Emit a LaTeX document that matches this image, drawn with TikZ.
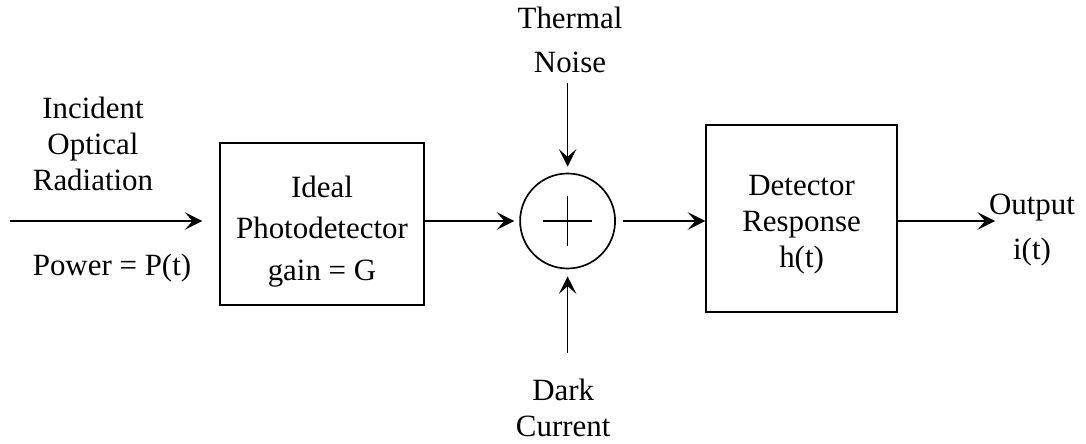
\documentclass[tikz,border=0pt]{standalone}
\usepackage{fontspec}
\setmainfont{Liberation Serif}
\usetikzlibrary{arrows.meta}

\begin{document}
\begin{tikzpicture}[
  lbl/.style={font=\fontsize{22}{25.6}\selectfont,align=center,inner sep=0pt},
  blk/.style={draw,line width=1.2pt,inner sep=0pt},
  sig/.style={-{Stealth[length=12.5pt,width=12.5pt,inset=5.5pt]},line width=1.2pt}]
  \useasboundingbox (0,0) rectangle (27.15,11.075);
  \node[blk,minimum width=5.1cm,minimum height=4.05cm] (pd) at (8.05,5.475) {};
  \node[blk,minimum width=4.775cm,minimum height=4.675cm] (resp) at (20.04,5.6125) {};
  \node[blk,circle,minimum size=2.375cm] (sum) at (14.19,5.55) {};
  \draw[line width=1.2pt] ([xshift=-0.61cm]sum.center) -- ([xshift=0.61cm]sum.center);
  \draw[line width=1.2pt] ([yshift=-0.625cm]sum.center) -- ([yshift=0.625cm]sum.center);
  \coordinate (src) at (0.25,5.55);
  \coordinate (out) at (24.875,5.55);
  \coordinate (thn) at (14.19,9.0);
  \coordinate (dark) at (14.19,2.25);
  % signal path, then the two noise inputs
  \draw[sig,shorten >=0.42cm] (src) -- (src -| pd.west);
  \draw[sig,shorten >=0.125cm] (pd.east |- sum) -- (sum);
  \draw[sig,shorten <=0.175cm] (sum) -- (sum -| resp.west);
  \draw[sig] (sum -| resp.east) -- (out);
  \draw[sig,shorten >=0.15cm] (thn) -- (sum);
  \draw[sig,shorten >=0.175cm] (dark) -- (sum);
  \node[lbl] (inc) at (2.325,7.48) {Incident\\Optical\\Radiation};
  \node[lbl,anchor=base] (pwr) at (2.8,4.2) {Power = P(t)};
  \node[lbl] (pdtxt) at (8.05,5.2875) {Ideal\\[3.9pt]Photodetector\\[3.9pt]gain = G};
  \node[lbl] (resptxt) at (20.04,5.45) {Detector\\Response\\h(t)};
  \node[lbl] (thntxt) at (14.25,10.08) {Thermal\\[5.7pt]Noise};
  \node[lbl] (darktxt) at (14.08,0.869) {Dark\\Current};
  \node[lbl] (outtxt) at (25.8,5.3125) {Output\\[6.4pt]i(t)};
\end{tikzpicture}
\end{document}
